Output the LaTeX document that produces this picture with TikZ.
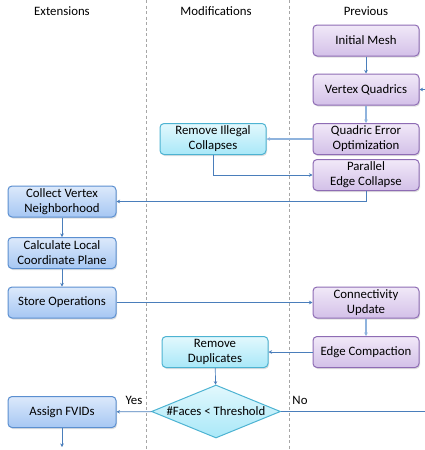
\documentclass[tikz,border=0pt]{standalone}
\usepackage{fontspec}
\setmainfont{Carlito}
\usetikzlibrary{shapes.geometric,arrows.meta,shadows}

\definecolor{flowline}{HTML}{4A7EBB}
\definecolor{flowlight}{HTML}{8FB3DD}
\definecolor{prevline}{HTML}{8E6CB4}
\definecolor{prevtop}{HTML}{F1E9F8}
\definecolor{prevbot}{HTML}{D3C0E8}
\definecolor{extline}{HTML}{5B8FD0}
\definecolor{exttop}{HTML}{DCE9FB}
\definecolor{extbot}{HTML}{A6C7F3}
\definecolor{modline}{HTML}{4DB3D2}
\definecolor{modtop}{HTML}{E2F8FD}
\definecolor{modbot}{HTML}{A9E8F8}

\tikzset{
  every node/.style={font=\fontsize{12.8}{15}\selectfont},
  box/.style={rounded corners=4pt, align=center, inner sep=2pt,
    minimum width=106pt, minimum height=31pt, line width=1pt,
    drop shadow={opacity=0.25, shadow xshift=1pt, shadow yshift=-1.5pt}},
  prevbox/.style={box, draw=prevline, top color=prevtop, bottom color=prevbot},
  extbox/.style={box, draw=extline, top color=exttop, bottom color=extbot, minimum width=108pt},
  modbox/.style={box, draw=modline, top color=modtop, bottom color=modbot},
  decision/.style={diamond, aspect=2.43, inner sep=0pt, draw=modline, line width=1pt,
    top color=modtop, bottom color=modbot, minimum width=129pt, minimum height=53pt},
  flow/.style={draw=flowline, line width=0.7pt, -{Stealth[length=3.5pt,width=3.5pt]}},
  thickflow/.style={flow, draw=flowlight, line width=1.8pt},
  lane/.style={draw=gray!70, dashed, dash pattern=on 3pt off 2.5pt, line width=0.6pt}
}

\begin{document}
\begin{tikzpicture}[x=1pt,y=-1pt]
\useasboundingbox (0,0) rectangle (425,450);
%% lanes
\draw[lane] (146.5,0) -- (146.5,450);
\draw[lane] (289.5,0) -- (289.5,450);
\node (hext) at (62,11) {Extensions};
\node (hmod) at (216,11) {Modifications};
\node (hprev) at (366,11) {Previous};

%% previous pipeline
\node[prevbox] (mesh) at (366,40.5) {Initial Mesh};
\node[prevbox] (quad) at (366,89.5) {Vertex Quadrics};
\node[prevbox] (qeo) at (366,139) {Quadric Error\\Optimization};
\node[prevbox] (pec) at (366,175) {Parallel\\Edge Collapse};
\node[prevbox] (conn) at (366,302.5) {Connectivity\\Update};
\node[prevbox] (compact) at (366,352) {Edge Compaction};

%% modifications
\node[modbox] (illegal) at (213,139) {Remove Illegal\\Collapses};
\node[modbox] (dupl) at (215,352) {Remove\\Duplicates};
\node[decision] (thresh) at (216,411.5) {\#Faces < Threshold};

%% extensions
\node[extbox] (neigh) at (62,201.5) {Collect Vertex\\Neighborhood};
\node[extbox] (plane) at (62,253) {Calculate Local\\Coordinate Plane};
\node[extbox] (store) at (62,302.5) {Store Operations};
\node[extbox] (fvid) at (62,412) {Assign FVIDs};
\coordinate (out) at (62,447);
\coordinate (loop) at (440,411.5);

\draw[flow] (mesh) -- (quad);
\draw[thickflow] (quad) -- (qeo);
\draw[thickflow] (qeo) -- (illegal);
\draw[flow] (illegal.south) |- (pec.west);
\draw[flow] (pec.south) |- (neigh.east);
\draw[flow] (neigh) -- (plane);
\draw[flow] (plane) -- (store);
\draw[flow] (store) -- (conn);
\draw[thickflow] (conn) -- (compact);
\draw[flow] (compact) -- (dupl);
\draw[flow] (dupl) -- (thresh);
\draw[flow] (thresh) -- node[above, pos=0.5, yshift=3pt] {Yes} (fvid);
\draw[flow] (thresh.east) -- (loop) |- (quad.east); %% -> back to quadrics
\node (no) at (300,400) {No};
\draw[flow] (fvid) -- (out);
\end{tikzpicture}
\end{document}
